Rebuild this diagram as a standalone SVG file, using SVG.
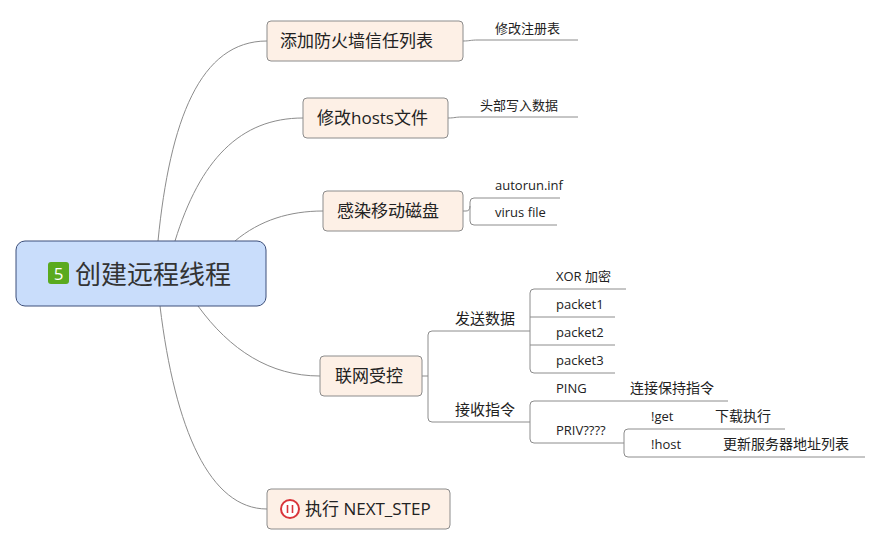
<svg xmlns="http://www.w3.org/2000/svg" width="881" height="546" viewBox="0 0 881 546">
<style>
text{font-family:"Open Sans","Noto Sans CJK SC",sans-serif;fill:#222}
.b{fill:#fdf0e6;stroke:#8c8c8c;stroke-width:1}
.bt{font-size:17px}
.lt{font-size:13px}
.c{fill:none;stroke:#8c8c8c;stroke-width:1}
</style>
<rect width="881" height="546" fill="#fff"/>
<g id="connectors">
<path class="c" d="M158,241 C170,120 200,41 267,41"/>
<path class="c" d="M175,241 C200,160 240,118 303,118"/>
<path class="c" d="M235,241 C260,220 290,211 323,211"/>
<path class="c" d="M198,306 C230,350 270,376 320,376"/>
<path class="c" d="M160,306 C175,430 210,509 267,509"/>
<path class="c" d="M463,41 C470,41 470,40 478,40 H578"/>
<path class="c" d="M448,118 C455,118 455,117 462,117 H578"/>
<path class="c" d="M463,211 H466 Q470,211 470,206 V202 Q470,198 474,198 H560 M470,206 V221 Q470,225 474,225 H557"/>
<path class="c" d="M422,376 H428 M428,335 Q428,331 432,331 H528 M428,335 V418 Q428,422 432,422 H528"/>
<path class="c" d="M528,331 H530 M530,293 Q530,289 534,289 H626 M530,293 V369 Q530,373 534,373 H615 M530,317 H615 M530,345 H615"/>
<path class="c" d="M528,422 H530 M530,405 Q530,401 534,401 H728 M530,405 V439 Q530,443 534,443 H620"/>
<path class="c" d="M620,443 H624 M624,433 Q624,429 628,429 H785 M624,433 V453 Q624,457 628,457 H865"/>
</g>
<g id="root">
<rect x="16" y="241" width="250" height="65" rx="9" fill="#c9ddfb" stroke="#3d4f7a" stroke-width="1"/>
<rect x="48" y="262" width="21" height="22" rx="3" fill="#5aaa1e"/>
<text x="58.5" y="280" font-size="17" text-anchor="middle" style="fill:#fff">5</text>
<text x="75" y="284" font-size="26" style="fill:#333">创建远程线程</text>
</g>
<g id="n1"><rect class="b" x="267" y="21" width="196" height="40" rx="4"/><text class="bt" x="280" y="47">添加防火墙信任列表</text></g>
<g id="n2"><rect class="b" x="303" y="98" width="145" height="40" rx="4"/><text class="bt" x="317" y="124">修改hosts文件</text></g>
<g id="n3"><rect class="b" x="323" y="191" width="140" height="40" rx="4"/><text class="bt" x="337" y="217">感染移动磁盘</text></g>
<g id="n4"><rect class="b" x="320" y="356" width="102" height="40" rx="4"/><text class="bt" x="335" y="382">联网受控</text></g>
<g id="n5"><rect class="b" x="267" y="489" width="183" height="40" rx="4"/>
<circle cx="290" cy="509" r="9" fill="#fff" stroke="#d9343a" stroke-width="2"/>
<path d="M287.5,505 V513 M292.5,505 V513" stroke="#d9343a" stroke-width="1.6"/>
<text class="bt" x="305" y="515">执行 NEXT_STEP</text></g>
<g id="leaves">
<text class="lt" x="495" y="33">修改注册表</text>
<text class="lt" x="480" y="110">头部写入数据</text>
<text class="lt" x="495" y="190">autorun.inf</text>
<text class="lt" x="495" y="217">virus file</text>
<text class="bt" x="455" y="324" style="font-size:15px">发送数据</text>
<text class="bt" x="455" y="415" style="font-size:15px">接收指令</text>
<text class="lt" x="556" y="281">XOR 加密</text>
<text class="lt" x="556" y="309">packet1</text>
<text class="lt" x="556" y="337">packet2</text>
<text class="lt" x="556" y="365">packet3</text>
<text class="lt" x="556" y="393">PING</text>
<text class="lt" x="630" y="393" style="font-size:14px">连接保持指令</text>
<text class="lt" x="556" y="435">PRIV????</text>
<text class="lt" x="651" y="421">!get</text>
<text class="lt" x="715" y="421" style="font-size:14px">下载执行</text>
<text class="lt" x="651" y="449">!host</text>
<text class="lt" x="723" y="449" style="font-size:14px">更新服务器地址列表</text>
</g>
</svg>
